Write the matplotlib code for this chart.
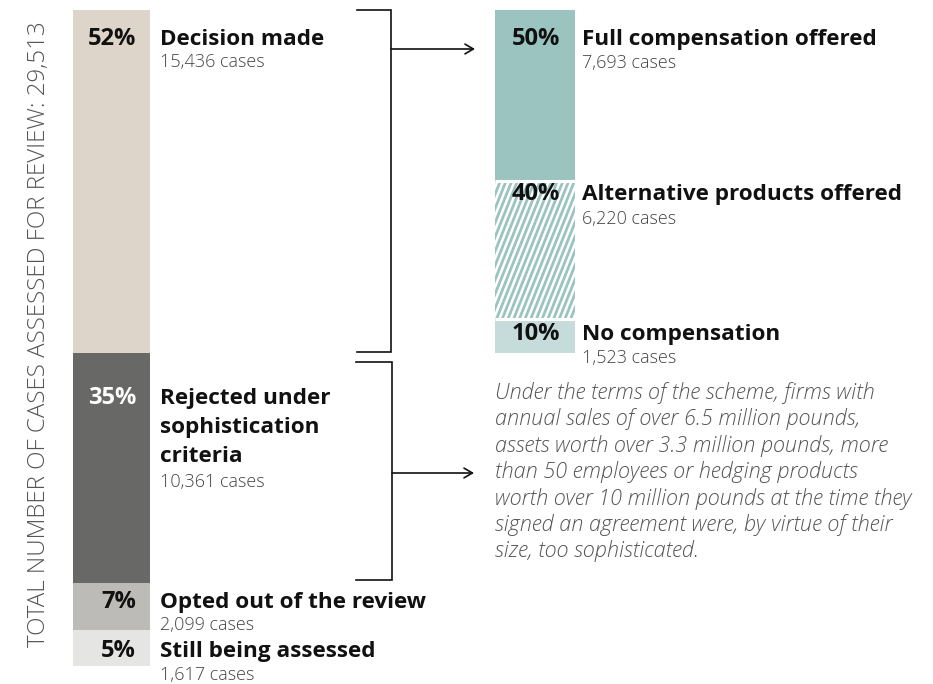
import matplotlib
matplotlib.use("Agg")
import matplotlib.pyplot as plt
import numpy as np

# ── Data ──────────────────────────────────────────────────────────────────────
total_cases = 29513
left_labels = ["Decision made", "Rejected under\nsophistication\ncriteria",
               "Opted out of the review", "Still being assessed"]
left_cases = [15436, 10361, 2099, 1617]
right_labels = ["Full compensation offered", "Alternative products offered",
                "No compensation"]
right_cases = [7693, 6220, 1523]
note_lines = [
    "Under the terms of the scheme, firms with",
    "annual sales of over 6.5 million pounds,",
    "assets worth over 3.3 million pounds, more",
    "than 50 employees or hedging products",
    "worth over 10 million pounds at the time they",
    "signed an agreement were, by virtue of their",
    "size, too sophisticated.",
]
axis_title = "TOTAL NUMBER OF CASES ASSESSED FOR REVIEW: 29,513"

left_colors = ["#ddd5ca", "#686967", "#bcbbb7", "#e5e5e3"]
right_colors = ["#9bc4c0", "#ffffff", "#c6dcdb"]
pct_colors_left = ["#111111", "#ffffff", "#111111", "#111111"]
TEAL = "#9bc4c0"

# ── Figure ────────────────────────────────────────────────────────────────────
W, H = 933, 684
fig = plt.figure(figsize=(W / 100, H / 100), dpi=100)
fig.patch.set_facecolor("white")

# bars axis: x in pixels, y in cases
top_px, bot_px = 10, 666
s = (bot_px - top_px) / total_cases
ax = fig.add_axes([0, 0, 1, 1])
ax.set_xlim(0, W)
ax.set_ylim((H - top_px) / s, -top_px / s)
ax.axis("off")

# overlay in pixel coords for text and connectors
ov = fig.add_axes([0, 0, 1, 1])
ov.set_xlim(0, W)
ov.set_ylim(H, 0)
ov.axis("off")
ov.patch.set_alpha(0)

lx0, lx1 = 73, 150
rx0, rx1 = 495, 575

left_bottoms = np.concatenate([[0], np.cumsum(left_cases)[:-1]])
ax.bar((lx0 + lx1) / 2, left_cases, bottom=left_bottoms, width=lx1 - lx0,
       color=left_colors, linewidth=0)

right_bottoms = np.concatenate([[0], np.cumsum(right_cases)[:-1]])
rbars = ax.bar((rx0 + rx1) / 2, right_cases, bottom=right_bottoms,
               width=rx1 - rx0, color=right_colors, linewidth=0)

# steep diagonal stripes for "alternative products"
hatch_bar = rbars[1]
dx = right_cases[1] * s * 0.40
for k in np.arange(rx0 - dx - 6, rx1 + 6, 5.7):
    ln, = ax.plot([k, k + dx],
                  [right_bottoms[1] + right_cases[1], right_bottoms[1]],
                  color=TEAL, linewidth=2.0, solid_capstyle="butt")
    ln.set_clip_path(hatch_bar)

# thin white gaps between right-hand segments
ax.hlines(right_bottoms[1:], rx0, rx1, colors="white", linewidth=2.2)

# ── Text ──────────────────────────────────────────────────────────────────────
BOLD = dict(family="Open Sans", fontsize=16.2, fontweight="bold", color="#111111")
PCT = dict(family="Open Sans", fontsize=17, fontweight="bold")
SUB = dict(family="Open Sans", fontsize=13, fontweight="light", color="#444444")


def pct(c, tot):
    return f"{round(100 * c / tot)}%"


# left column
left_baselines = [45, 404, 608, 657]
left_sub_base = [67, 487, 630, 680]
for i, lab in enumerate(left_labels):
    b = left_baselines[i]
    ov.text(136, b, pct(left_cases[i], total_cases), ha="right",
            va="baseline", color=pct_colors_left[i], **PCT)
    for j, line in enumerate(lab.split("\n")):
        ov.text(160, b + j * 29, line, ha="left", va="baseline", **BOLD)
    ov.text(160, left_sub_base[i], f"{left_cases[i]:,} cases",
            ha="left", va="baseline", **SUB)

# right column
right_baselines = [45, 200, 340]
right_sub_base = [68, 224, 363]
for i, lab in enumerate(right_labels):
    b = right_baselines[i]
    ov.text(560, b, pct(right_cases[i], sum(right_cases)), ha="right",
            va="baseline", color="#111111", **PCT)
    ov.text(582, b, lab, ha="left", va="baseline", **BOLD)
    ov.text(582, right_sub_base[i], f"{right_cases[i]:,} cases",
            ha="left", va="baseline", **SUB)

# note
for i, line in enumerate(note_lines):
    ov.text(495, 399 + i * 26.4, line, ha="left", va="baseline",
            family="Open Sans", fontsize=15.6, fontstyle="italic",
            fontweight="light", color="#555555")

# rotated axis title
ov.text(39, 647, axis_title, rotation=90, ha="center", va="bottom",
        family="Open Sans", fontsize=17.4, fontweight="light", color="#555555")

# ── Brackets and arrows ───────────────────────────────────────────────────────
LW = 1.2
ov.plot([357, 391, 391, 357], [10, 10, 352, 352], color="#111111",
        linewidth=LW, solid_joinstyle="miter")
ov.plot([356, 392, 392, 356], [362, 362, 580, 580], color="#111111",
        linewidth=LW, solid_joinstyle="miter")
ov.annotate("", xy=(475, 49), xytext=(391, 49),
            arrowprops=dict(arrowstyle="->,head_length=0.6,head_width=0.35",
                            color="#111111", linewidth=LW, shrinkA=0, shrinkB=0))
ov.annotate("", xy=(474, 473), xytext=(392, 473),
            arrowprops=dict(arrowstyle="->,head_length=0.6,head_width=0.35",
                            color="#111111", linewidth=LW, shrinkA=0, shrinkB=0))

fig.savefig("out.png", dpi=100, facecolor="white")
